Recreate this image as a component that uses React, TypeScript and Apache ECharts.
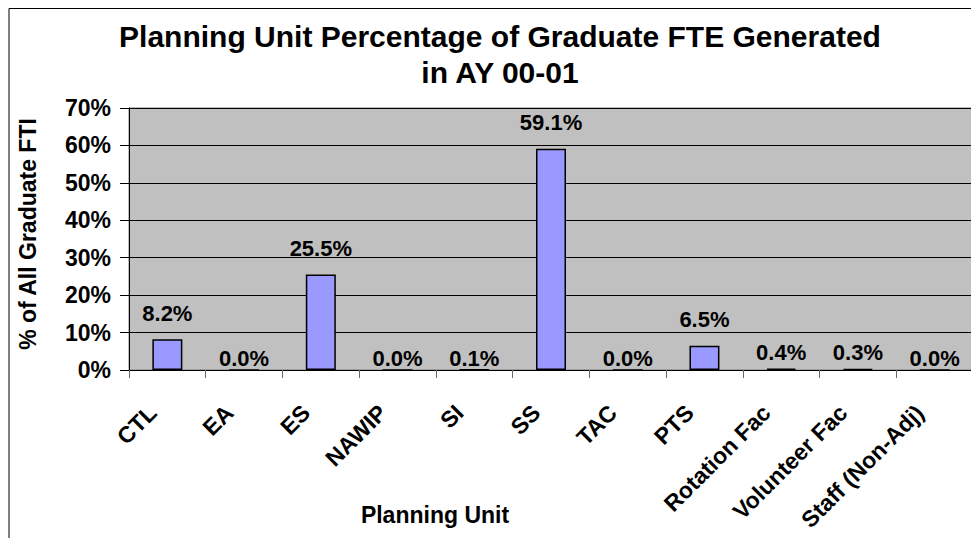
import React, { useEffect, useRef } from "react";
import * as echarts from "echarts";

const categories = [
  "CTL",
  "EA",
  "ES",
  "NAWIP",
  "SI",
  "SS",
  "TAC",
  "PTS",
  "Rotation Fac",
  "Volunteer Fac",
  "Staff (Non-Adj)",
];
const percentValues = [8.2, 0.0, 25.5, 0.0, 0.1, 59.1, 0.0, 6.5, 0.4, 0.3, 0.0];
const titleLines = ["Planning Unit Percentage of Graduate FTE Generated", "in AY 00-01"];
const yAxisTitle = "% of All Graduate FTI";
const xAxisTitle = "Planning Unit";

const FONT = "Arial, 'Liberation Sans', sans-serif";

export default function App() {
  const ref = useRef<HTMLDivElement>(null);
  useEffect(() => {
    if (!ref.current) return;
    const chart = echarts.init(ref.current, null, { renderer: "svg" });
    const labelDistance = (v: number) => (v >= 1 ? 15 : v >= 0.3 ? 5 : 0);
    chart.setOption({
      animation: false,
      backgroundColor: "#ffffff",
      textStyle: { fontFamily: FONT },
      grid: {
        left: 121,
        top: 100,
        right: 6,
        bottom: 168,
        show: true,
        backgroundColor: "#C0C0C0",
        borderColor: "#808080",
        borderWidth: 1,
      },
      xAxis: {
        type: "category",
        data: categories,
        axisLine: { show: true, lineStyle: { color: "#000", width: 1 } },
        axisTick: { show: true, length: 8, lineStyle: { color: "#666" } },
        axisLabel: {
          rotate: 45,
          margin: 24,
          padding: [0, 21, 0, 0],
          interval: 0,
          color: "#000",
          fontSize: 23,
          fontWeight: "bold",
          fontFamily: FONT,
        },
      },
      yAxis: {
        type: "value",
        min: 0,
        max: 70,
        interval: 10,
        axisLine: { show: true, lineStyle: { color: "#000", width: 1 } },
        axisTick: { show: true, length: 9, lineStyle: { color: "#000" } },
        splitLine: { show: true, lineStyle: { color: "#000", width: 1 } },
        axisLabel: {
          formatter: "{value}%",
          margin: 18,
          color: "#000",
          fontSize: 23,
          fontWeight: "bold",
          fontFamily: FONT,
        },
      },
      series: [
        {
          type: "bar",
          barWidth: 30,
          data: percentValues.map((v) => ({
            value: v,
            label: { distance: labelDistance(v) },
          })),
          itemStyle: { color: "#9999FF", borderColor: "#000", borderWidth: 1.5 },
          label: {
            show: true,
            position: "top",
            formatter: (p: any) => Number(p.value).toFixed(1) + "%",
            color: "#000",
            fontSize: 22,
            fontWeight: "bold",
            fontFamily: FONT,
          },
        },
      ],
      graphic: [
        {
          type: "polyline",
          shape: { points: [[1, 560], [1, 0.5], [967, 0.5], [967, 560]] },
          style: { stroke: "#000", lineWidth: 1, fill: "none" },
          silent: true,
        },
        {
          type: "text",
          x: 492,
          y: 28,
          style: {
            text: titleLines[0],
            align: "center",
            verticalAlign: "middle",
            font: `bold 30px ${FONT}`,
            fill: "#000",
          },
        },
        {
          type: "text",
          x: 492,
          y: 64,
          style: {
            text: titleLines[1],
            align: "center",
            verticalAlign: "middle",
            font: `bold 30px ${FONT}`,
            fill: "#000",
          },
        },
        {
          type: "text",
          x: 20,
          y: 226,
          rotation: Math.PI / 2,
          style: {
            text: yAxisTitle,
            align: "center",
            verticalAlign: "middle",
            font: `bold 23px ${FONT}`,
            fill: "#000",
          },
        },
        {
          type: "text",
          x: 427,
          y: 507,
          style: {
            text: xAxisTitle,
            align: "center",
            verticalAlign: "middle",
            font: `bold 23px ${FONT}`,
            fill: "#000",
          },
        },
      ],
    });
    return () => chart.dispose();
  }, []);
  return <div ref={ref} style={{ width: 971, height: 530 }} />;
}
